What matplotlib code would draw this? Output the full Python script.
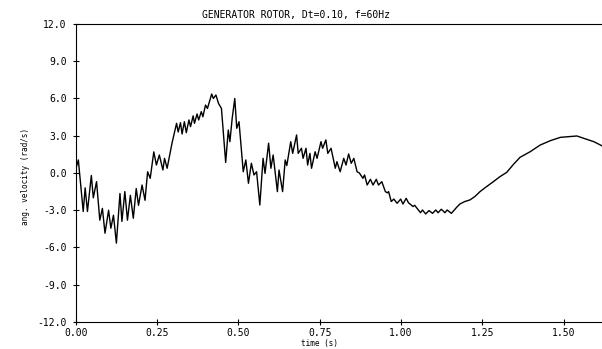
# Generator rotor angular velocity trace, Dt=0.10, f=60Hz
import matplotlib.pyplot as plt
import numpy as np

time_s = [
    0.000, 0.008, 0.023, 0.029, 0.036, 0.048, 0.054, 0.064, 0.074, 0.082,
    0.090, 0.101, 0.108, 0.116, 0.125, 0.136, 0.142, 0.151, 0.159, 0.168,
    0.177, 0.186, 0.193, 0.204, 0.213, 0.221, 0.229, 0.240, 0.248, 0.257,
    0.268, 0.273, 0.281, 0.296, 0.310, 0.315, 0.322, 0.327, 0.334, 0.340,
    0.348, 0.353, 0.361, 0.365, 0.373, 0.378, 0.386, 0.391, 0.399, 0.405,
    0.418, 0.423, 0.431, 0.439, 0.448, 0.461, 0.469, 0.474, 0.481, 0.489,
    0.495, 0.502, 0.515, 0.523, 0.531, 0.540, 0.548, 0.556, 0.566, 0.576,
    0.582, 0.593, 0.600, 0.607, 0.620, 0.625, 0.636, 0.644, 0.649, 0.661,
    0.667, 0.679, 0.684, 0.694, 0.699, 0.708, 0.713, 0.720, 0.725, 0.736,
    0.742, 0.754, 0.759, 0.769, 0.775, 0.785, 0.798, 0.803, 0.813, 0.824,
    0.831, 0.839, 0.847, 0.855, 0.865, 0.872, 0.883, 0.888, 0.896, 0.906,
    0.914, 0.924, 0.931, 0.941, 0.952, 0.958, 0.962, 0.970, 0.978, 0.988,
    0.999, 1.006, 1.016, 1.023, 1.037, 1.042, 1.057, 1.060, 1.066, 1.076,
    1.086, 1.097, 1.107, 1.114, 1.124, 1.135, 1.142, 1.155, 1.171, 1.181,
    1.196, 1.212, 1.227, 1.243, 1.263, 1.284, 1.304, 1.325, 1.346, 1.366,
    1.397, 1.428, 1.459, 1.490, 1.515, 1.541, 1.562, 1.593, 1.623,
]
ang_vel = [
    0.30, 1.05, -3.10, -1.20, -3.10, -0.20, -2.00, -0.70, -3.80, -2.85,
    -4.85, -3.00, -4.45, -3.40, -5.65, -1.65, -3.90, -1.50, -3.80, -1.80,
    -3.65, -1.25, -2.60, -0.97, -2.20, 0.10, -0.43, 1.70, 0.64, 1.45,
    0.24, 1.18, 0.38, 2.40, 4.00, 3.30, 4.05, 3.14, 4.13, 3.25,
    4.27, 3.73, 4.60, 4.00, 4.75, 4.27, 4.94, 4.53, 5.47, 5.20,
    6.36, 6.00, 6.28, 5.60, 5.20, 0.85, 3.46, 2.52, 4.40, 6.00,
    3.60, 4.13, 0.10, 1.05, -0.83, 0.78, -0.16, 0.10, -2.58, 1.18,
    -0.03, 2.40, 0.38, 1.45, -1.50, 0.24, -1.50, 1.05, 0.60, 2.52,
    1.58, 3.06, 1.58, 1.99, 1.18, 1.99, 0.64, 1.58, 0.38, 1.71,
    1.18, 2.52, 1.99, 2.66, 1.58, 1.99, 0.38, 0.91, 0.10, 1.18,
    0.64, 1.53, 0.78, 1.18, 0.10, 0.00, -0.43, -0.16, -0.97, -0.51,
    -0.97, -0.51, -0.97, -0.70, -1.50, -1.60, -1.50, -2.30, -2.10, -2.44,
    -2.10, -2.50, -2.04, -2.40, -2.70, -2.60, -3.10, -3.20, -2.98, -3.30,
    -3.03, -3.25, -2.98, -3.20, -2.92, -3.20, -2.98, -3.25, -2.77, -2.50,
    -2.30, -2.17, -1.90, -1.50, -1.10, -0.70, -0.30, 0.05, 0.70, 1.26,
    1.71, 2.25, 2.60, 2.87, 2.92, 2.98, 2.79, 2.52, 2.12,
]

x_ticks = [0.0, 0.25, 0.5, 0.75, 1.0, 1.25, 1.5]
y_ticks = [-12, -9, -6, -3, 0, 3, 6, 9, 12]

font = 'DejaVu Sans Mono'

fig = plt.figure(figsize=(6.02, 3.49), dpi=100)
ax = fig.add_axes([0.1258, 0.0774, 0.8742, 0.8539])

ax.plot(time_s, ang_vel, color='black', linewidth=1.0)

ax.set_xlim(0, 1.618)
ax.set_ylim(-12, 12)
ax.set_xticks(x_ticks)
ax.set_xticklabels([f'{t:.2f}' for t in x_ticks], fontsize=7, family=font)
ax.set_yticks(y_ticks)
ax.set_yticklabels([f'{v:.1f}' for v in y_ticks], fontsize=7, family=font)
ax.tick_params(direction='inout', length=5, width=0.8)
ax.tick_params(axis='y', pad=4)
ax.tick_params(axis='x', pad=2)

ax.spines['right'].set_visible(False)
for s in ['left', 'top', 'bottom']:
    ax.spines[s].set_linewidth(0.8)

ax.set_xlabel('time (s)', fontsize=5.5, family=font, va='center')
ax.xaxis.set_label_coords(0.464, -0.072)
ax.set_ylabel('ang. velocity (rad/s)', fontsize=5.5, family=font, va='center')
ax.yaxis.set_label_coords(-0.096, 0.49)

fig.text(0.492, 0.957, 'GENERATOR ROTOR, Dt=0.10, f=60Hz',
         ha='center', va='center', fontsize=7, family=font)

plt.savefig('out.png', dpi=100)
